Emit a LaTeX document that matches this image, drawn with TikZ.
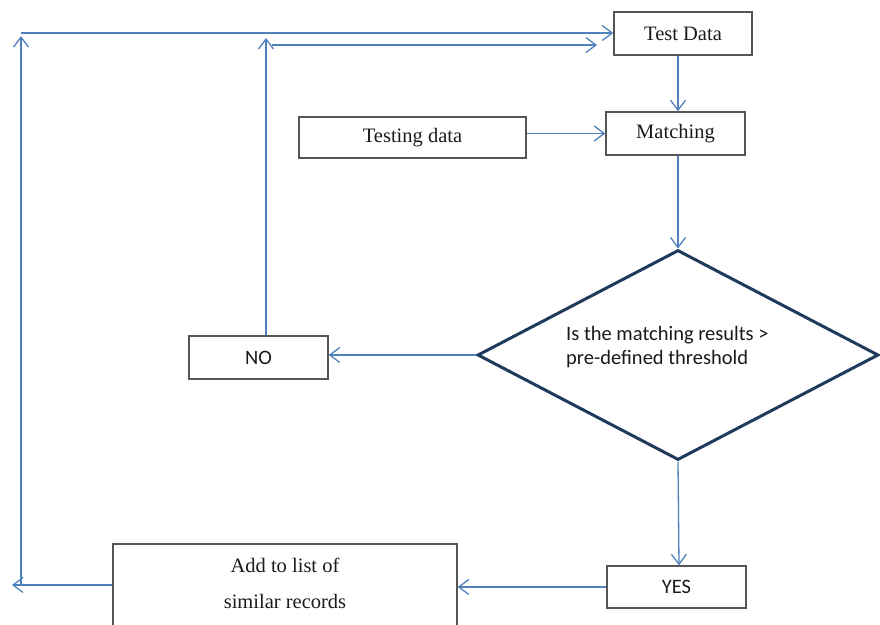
\documentclass[tikz,border=0pt]{standalone}
\usepackage{fontspec}
\setmainfont{Liberation Serif}
\newfontfamily\calib{Carlito}
\usetikzlibrary{arrows.meta,shapes.geometric}

\definecolor{linkblue}{HTML}{4F81BD}
\definecolor{boxgray}{HTML}{555555}
\definecolor{navy}{HTML}{1F3A5C}
\definecolor{inkgray}{HTML}{1A1A1A}

\begin{document}
\begin{tikzpicture}[x=1pt,y=-1pt,
  box/.style={draw=boxgray,line width=1.4pt,inner sep=0pt,rectangle,
              text=inkgray,font=\fontsize{20.5}{24}\selectfont},
  sbox/.style={box,font=\calib\fontsize{20.5}{24}\selectfont},
  flow/.style={draw=linkblue,line width=1.3pt,
               -{Straight Barb[length=10pt,width=15pt]}}]

\useasboundingbox (0,0) rectangle (880,624);
\clip (0,0) rectangle (880,624);

% process boxes
\node[box,minimum width=138pt,minimum height=43pt] (td) at (683,33.5) {Test Data};
\node[box,minimum width=139pt,minimum height=43pt] (mt) at (675.5,133.5) {Matching};
\node[box,minimum width=227pt,minimum height=41pt] (tg) at (412.5,137.5) {Testing data};
\node[sbox,minimum width=139pt,minimum height=43pt] (no) at (258.5,357.5) {NO};
\node[sbox,minimum width=139pt,minimum height=42pt] (yes) at (676.5,587) {YES};
\node[box,minimum width=344pt,minimum height=112pt] (add) at (285,600) {};
\node[align=center,inner sep=0pt,text=inkgray,font=\fontsize{20.5}{36}\selectfont]
  (addtxt) at (285,583) {Add to list of\\similar records};

% decision
\node[diamond,draw=navy,line width=3pt,inner sep=0pt,
      minimum width=401pt,minimum height=210pt] (dm) at (678,355) {};
\node[anchor=west,align=left,inner sep=0pt,text=inkgray,
      font=\calib\fontsize{20.5}{24.5}\selectfont] (dmtxt) at (566,347)
  {Is the matching results >\\pre-defined threshold};

% loop points
\coordinate (outBot) at (21,585);
\coordinate (outTop) at (21,36);
\coordinate (outRow) at (21,33);
\coordinate (outEnd) at (12,585);
\coordinate (noTop)  at (266,38);
\coordinate (noRow)  at (272,45);
\coordinate (noEnd)  at (597,45);

% main flow
\draw[flow] ([xshift=-5pt]td.south) -- ([xshift=-5pt]td.south |- mt.north);
\draw[flow] (tg.east |- mt) -- (mt.west);
\draw[flow] (mt.south -| dm.north) -- (dm.north);
\draw[flow] (dm.west) -- (dm.west -| no.east);
\draw[flow] (dm.south) -- ([xshift=2.5pt]yes.north);
\draw[flow] (yes.west) -- (yes.west -| add.east);

% return loops
\draw[flow] (outEnd -| add.west) -- (outEnd);
\draw[flow] (outBot) -- (outTop);
\draw[flow] (outRow) -- (outRow -| td.west);
\draw[flow] (no.north -| noTop) -- (noTop);
\draw[flow] (noRow) -- (noEnd);
\end{tikzpicture}
\end{document}
